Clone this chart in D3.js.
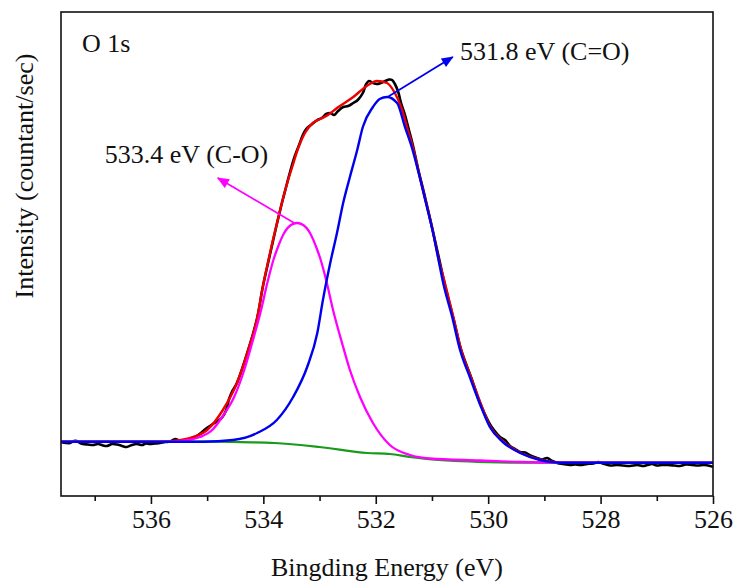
<!DOCTYPE html>
<html><head><meta charset="utf-8">
<script src="https://cdn.jsdelivr.net/npm/d3@7"></script>
<style>body{margin:0;background:#fff}text{font-family:"Liberation Serif","Times New Roman",serif;fill:#111}</style>
</head><body>
<svg id="chart" width="738" height="585"></svg>
<script>
// ---- data (binding energy in eV, intensity in arbitrary units) ----
const rawEnergy = [537.60,537.51,537.44,537.37,537.32,537.26,537.21,537.12,537.03,536.94,536.85,536.78,536.69,536.60,536.51,536.43,536.34,536.25,536.16,536.09,536.02,535.93,535.84,535.75,535.66,535.57,535.48,535.38,535.25,535.16,535.07,534.98,534.90,534.81,534.74,534.66,534.61,534.56,534.47,534.27,534.11,534.01,533.88,533.76,533.67,533.60,533.53,533.44,533.35,533.29,533.22,533.13,533.04,532.96,532.88,532.81,532.74,532.67,532.58,532.49,532.40,532.32,532.23,532.17,532.12,532.05,531.98,531.91,531.83,531.76,531.71,531.66,531.60,531.55,531.48,531.41,531.34,531.25,531.12,530.98,530.86,530.77,530.62,530.48,530.30,530.13,529.95,529.84,529.79,529.70,529.61,529.52,529.43,529.34,529.25,529.13,529.04,528.95,528.86,528.77,528.67,528.54,528.45,528.36,528.24,528.13,528.04,527.96,527.83,527.71,527.60,527.48,527.35,527.24,527.17,527.08,527.00,526.91,526.80,526.69,526.59,526.48,526.37,526.27,526.16,526.05,526.00];
const rawIntensity = [54,53,53,55,55,53,52,51.5,51,52,50.5,50,52,51.5,50,49,51,52,51,52.5,52,52.5,53,54,54.5,57,55,56,58.5,61,65,69,72,75,78,86,97,104,113,146,178,209,242,272,293,308,323,340,353,362,368,372,376,378,382,383,381,385,389,390,393,396,403,412,415,413,412,413,415,416.5,416,412,404,393,381,366,351,328,298,264,234,211,178,146,118,91,70,62,59,56,50,47,44,43.5,40.5,38,36.5,38,35,33,32,31,31.5,31,32,32.5,34,32.5,30.5,31,30.5,30,31,30,31,32,30.5,31,31,30.5,30,31.5,31,30.5,31,30,29];

const envelopeEnergy = [537.60,535.71,535.61,535.30,535.00,534.72,534.47,534.27,534.11,534.01,533.92,533.85,533.76,533.67,533.58,533.47,533.38,533.26,533.12,532.99,532.85,532.69,532.40,532.16,531.98,531.80,531.66,531.53,531.43,531.34,531.25,531.12,530.98,530.89,530.77,530.62,530.48,530.30,530.13,529.97,529.74,529.43,529.08,528.72,528.00,526.00];
const envelopeIntensity = [54.3,54.3,55,58,66,86,113,146,178,209,233,251,272,293,312,332,348,363,373,377,381,388,399,410,415,413,403,386,366,349,327,297,264,239,213,179,146,118,92,70,55,43.5,36.5,33.5,33.2,33.2];

const coEnergy = [537.60,535.71,535.39,535.13,534.91,534.72,534.52,534.34,534.20,534.04,533.93,533.81,533.76,533.63,533.51,533.40,533.29,533.17,533.04,532.99,532.87,532.76,532.60,532.46,532.28,532.05,531.75,531.39,531.04,530.15,529.43,528.72,526.00];
const coIntensity = [54.3,54.3,55.5,59,66,80,99,126,153,186,213,238,246,263,271,273,271,263,246,238,213,186,153,126,99,73,51,41,37.5,35.5,34,33.3,33.2];

const c_oEnergy = [537.60,535.07,534.54,534.11,533.76,533.47,533.22,533.04,532.94,532.81,532.69,532.58,532.46,532.33,532.23,532.05,531.93,531.80,531.62,531.48,531.36,531.25,531.12,530.98,530.89,530.80,530.64,530.50,530.32,530.14,529.97,529.74,529.43,529.08,528.72,526.00];
const c_oIntensity = [54.3,54.2,56,63,76,99,129,163,196,233,263,293,319,346,369,389,397,399,393,369,349,326,296,263,238,213,179,146,118,91,69,54,43,36,33.3,33.3];

const bgEnergy = [537.60,534.80,534.40,533.80,533.00,532.15,531.75,531.40,531.10,530.60,530.00,529.40,526.00];
const bgIntensity = [54.3,54.3,53.8,53,49,43,42,39,37,35,33.8,33.3,33.2];

const majorTicks = [536,534,532,530,528,526];
const minorTicks = [537,535,533,531,529,527];

const labels = {
  title: "O 1s",
  xAxis: "Bingding Energy (eV)",
  yAxis: "Intensity (countant/sec)",
  co: "533.4 eV (C-O)",
  c_o: "531.8 eV (C=O)"
};

// ---- layout ----
const svg = d3.select("#chart");
const L = 61, R = 713, T = 12, B = 496;
const x = d3.scaleLinear().domain([537.6, 526]).range([L, R]);
const y = d3.scaleLinear().domain([0, 484]).range([B, T]);

const zip = (E, I) => E.map((e, i) => [e, I[i]]);
const line = d3.line().x(d => x(d[0])).y(d => y(d[1])).curve(d3.curveMonotoneX);
const rawLine = d3.line().x(d => x(d[0])).y(d => y(d[1])).curve(d3.curveCatmullRom.alpha(0.5));

const defs = svg.append("defs");
function marker(id, color) {
  defs.append("marker").attr("id", id).attr("viewBox", "0 0 12 10")
    .attr("refX", 11).attr("refY", 5).attr("markerWidth", 13).attr("markerHeight", 10)
    .attr("markerUnits", "userSpaceOnUse").attr("orient", "auto")
    .append("path").attr("d", "M0,0 L12,5 L0,10 Z").attr("fill", color);
}
marker("arrM", "#ff00ff");
marker("arrB", "#0000ee");

const g = svg.append("g");
g.append("path").datum(zip(rawEnergy, rawIntensity)).attr("d", rawLine)
  .attr("fill", "none").attr("stroke", "#000").attr("stroke-width", 2.6).attr("stroke-linejoin", "round");
g.append("path").datum(zip(envelopeEnergy, envelopeIntensity)).attr("d", line)
  .attr("fill", "none").attr("stroke", "#ee0000").attr("stroke-width", 2.4);
g.append("path").datum(zip(bgEnergy, bgIntensity)).attr("d", line)
  .attr("fill", "none").attr("stroke", "#1a9a1a").attr("stroke-width", 2.2);
g.append("path").datum(zip(coEnergy, coIntensity)).attr("d", line)
  .attr("fill", "none").attr("stroke", "#ff00ff").attr("stroke-width", 2.3);
g.append("path").datum(zip(c_oEnergy, c_oIntensity)).attr("d", line)
  .attr("fill", "none").attr("stroke", "#0000ee").attr("stroke-width", 2.4);

// arrows (data coordinates)
g.append("line").attr("x1", x(533.45)).attr("y1", y(273)).attr("x2", x(534.81)).attr("y2", y(318))
  .attr("stroke", "#ff00ff").attr("stroke-width", 1.8).attr("marker-end", "url(#arrM)");
g.append("line").attr("x1", x(531.79)).attr("y1", y(399)).attr("x2", x(530.63)).attr("y2", y(439))
  .attr("stroke", "#0000ee").attr("stroke-width", 1.8).attr("marker-end", "url(#arrB)");

const fs = 26;
g.append("text").attr("x", x(536.82)).attr("y", y(333)).attr("font-size", fs).text(labels.co);
g.append("text").attr("x", x(530.50)).attr("y", y(436)).attr("font-size", fs).text(labels.c_o);
g.append("text").attr("x", L + 21).attr("y", T + 40).attr("font-size", fs).text(labels.title);

// frame
svg.append("rect").attr("x", L).attr("y", T).attr("width", R - L).attr("height", B - T)
  .attr("fill", "none").attr("stroke", "#111").attr("stroke-width", 1.6);

// x axis
const ax = svg.append("g").attr("transform", `translate(0,${B})`)
  .call(d3.axisBottom(x).tickValues(majorTicks).tickSize(8).tickPadding(6).tickFormat(d3.format("d")));
ax.select(".domain").remove();
ax.selectAll("line").attr("stroke", "#111").attr("stroke-width", 1.6);
ax.selectAll("text").attr("font-size", fs).attr("font-family", "Liberation Serif").attr("fill", "#111");
const axm = svg.append("g").attr("transform", `translate(0,${B})`)
  .call(d3.axisBottom(x).tickValues(minorTicks).tickSize(5).tickFormat(""));
axm.select(".domain").remove();
axm.selectAll("line").attr("stroke", "#111").attr("stroke-width", 1.6);

svg.append("text").attr("x", (L + R) / 2).attr("y", 576).attr("text-anchor", "middle")
  .attr("font-size", fs).text(labels.xAxis);
svg.append("text").attr("transform", `translate(33,176) rotate(-90)`).attr("text-anchor", "middle")
  .attr("font-size", fs).text(labels.yAxis);
</script>
</body></html>
